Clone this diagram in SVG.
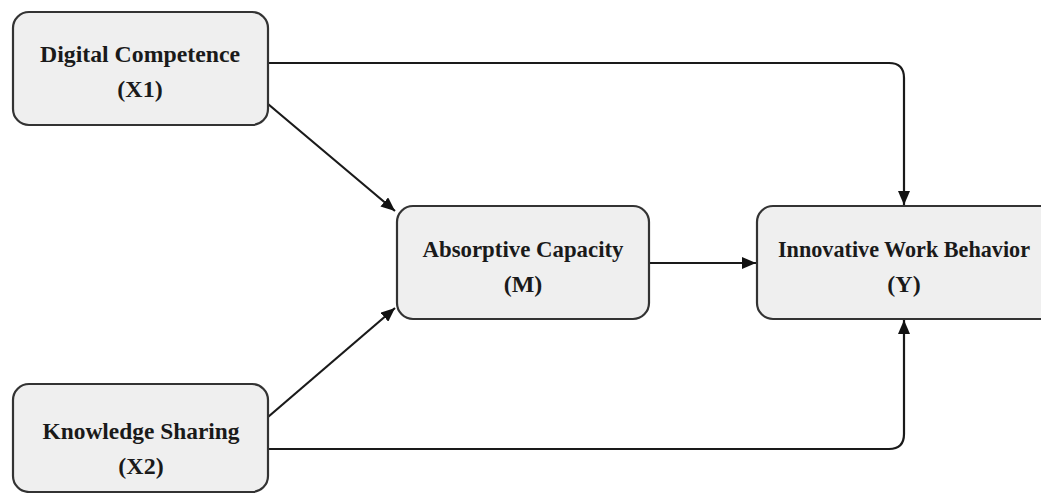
<svg xmlns="http://www.w3.org/2000/svg" width="1041" height="493" viewBox="0 0 1041 493">
<defs>
<style>
.node rect{fill:#efefef;stroke:#333;stroke-width:2.2}
.node text{font-family:"Liberation Serif","Times New Roman",serif;font-weight:bold;font-size:24px;fill:#1a1a1a;text-anchor:middle}
.conn path{fill:none;stroke:#1a1a1a;stroke-width:2.2}
</style>
<marker id="ah" viewBox="0 0 14 12" refX="14" refY="6" markerWidth="14" markerHeight="12" markerUnits="userSpaceOnUse" orient="auto">
<path d="M0,0 L14,6 L0,12 z" fill="#111"/>
</marker>
</defs>
<rect width="1041" height="493" fill="#ffffff"/>
<g class="conn">
<path d="M268,63 H889 Q904,63 904,78 V205" marker-end="url(#ah)"/>
<path d="M268,104 L395,211" marker-end="url(#ah)"/>
<path d="M268,417 L395,308" marker-end="url(#ah)"/>
<path d="M649,263 H756" marker-end="url(#ah)"/>
<path d="M268,449 H889 Q904,449 904,434 V320" marker-end="url(#ah)"/>
</g>
<g id="x1" class="node">
<rect x="13" y="12" width="255" height="113" rx="16"/>
<text x="140" y="62" textLength="200" lengthAdjust="spacingAndGlyphs">Digital Competence</text>
<text x="140" y="97">(X1)</text>
</g>
<g id="m" class="node">
<rect x="397" y="206" width="252" height="113" rx="16"/>
<text x="523" y="257" textLength="201" lengthAdjust="spacingAndGlyphs">Absorptive Capacity</text>
<text x="523" y="292">(M)</text>
</g>
<g id="y" class="node">
<rect x="757" y="206" width="300" height="113" rx="16"/>
<text x="904" y="257" textLength="252" lengthAdjust="spacingAndGlyphs">Innovative Work Behavior</text>
<text x="904" y="292">(Y)</text>
</g>
<g id="x2" class="node">
<rect x="13" y="384" width="255" height="108" rx="16"/>
<text x="141" y="439" textLength="197" lengthAdjust="spacingAndGlyphs">Knowledge Sharing</text>
<text x="141" y="474">(X2)</text>
</g>
</svg>
